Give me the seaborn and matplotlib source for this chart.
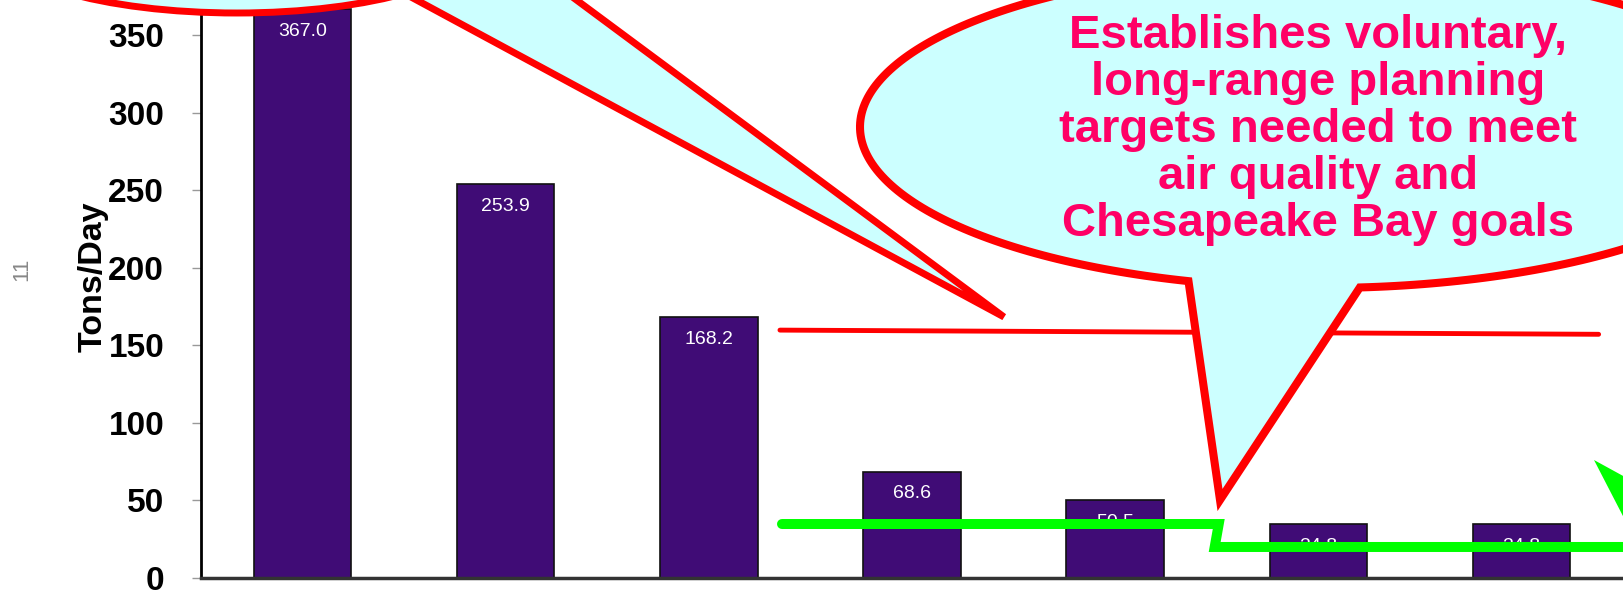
import numpy as np
import pandas as pd
import matplotlib
matplotlib.use("Agg")
import matplotlib.pyplot as plt
import seaborn as sns
from matplotlib.patches import Ellipse, Polygon

# Bars (tons/day)
periods = ["P1", "P2", "P3", "P4", "P5", "P6", "P7"]
tons_per_day = [367.0, 253.9, 168.2, 68.6, 50.5, 34.8, 34.8]
value_labels = ["367.0", "253.9", "168.2", "68.6", "50.5", "34.8", "34.8"]

# Target lines drawn over the bars (x in bar-index units)
red_x = [2.35, 6.38]
red_y = [159.8, 157.1]
green_x = [2.36, 4.51, 4.49, 6.5]
green_y = [34.8, 34.8, 20.0, 20.0]

y_ticks = [0, 50, 100, 150, 200, 250, 300, 350]

bubble_text = ("Establishes voluntary,\nlong-range planning\n"
               "targets needed to meet\nair quality and\nChesapeake Bay goals")

sns.set_style("white")
plt.rcParams["font.family"] = ["Liberation Sans", "DejaVu Sans"]

W, H = 1623, 593
fig = plt.figure(figsize=(W / 100, H / 100), dpi=100)
ax = fig.add_axes([201 / W, 15 / H, 1 - 201 / W, 578 / H])

df = pd.DataFrame({"period": periods, "tons": tons_per_day})
sns.barplot(data=df, x="period", y="tons", color="#400c76", width=0.48,
            saturation=1, edgecolor="#111111", linewidth=1.2, ax=ax)

for i, (v, lab) in enumerate(zip(tons_per_day, value_labels)):
    ax.annotate(lab, (i, v), xytext=(0, -10), textcoords="offset points",
                ha="center", va="top", color="white", fontsize=14, zorder=3)

ax.plot(red_x, red_y, color="#ff0000", lw=3.5, zorder=4)
ax.plot(green_x, green_y, color="#00ff00", lw=7.2, solid_joinstyle="miter", zorder=5)

ax.set_xlim(-0.5, 6.5)
ax.set_ylim(0, 372.6)
ax.set_yticks(y_ticks)
ax.set_yticklabels([str(t) for t in y_ticks], fontsize=24, fontweight="bold", color="black")
ax.tick_params(axis="y", left=True, length=6.5, width=1, color="#999999", pad=20)
ax.tick_params(axis="x", bottom=False, labelbottom=False)
ax.set_xlabel("")
ax.set_ylabel("Tons/Day", fontsize=24.5, fontweight="bold", color="black")
ax.yaxis.set_label_coords((109 - 201) / (W - 201), (578 - 277) / 578)
for s in ["top", "right"]:
    ax.spines[s].set_visible(False)
ax.spines["left"].set_color("black")
ax.spines["left"].set_linewidth(2)
ax.spines["bottom"].set_color("#333333")
ax.spines["bottom"].set_linewidth(2.5)

# overlay in pixel coordinates for the callouts
ov = fig.add_axes([0, 0, 1, 1], zorder=10)
ov.set_xlim(0, W)
ov.set_ylim(H, 0)
ov.axis("off")
ov.patch.set_alpha(0)

cyan, red = "#ccffff", "#ff0000"

# top-left callout (mostly off the page)
ov.add_patch(Ellipse((237, -60), 492, 146, fc=cyan, ec=red, lw=5))
ov.add_patch(Polygon([(398, -10), (1004, 317), (563, -10)], closed=True,
                     fc=cyan, ec=red, lw=5, joinstyle="miter"))

# big callout: ellipse with a tail
cx, cy, a, b = 1322, 127, 462, 161
th = np.radians(np.linspace(106.8, 445.3, 300))
pts = list(zip(cx + a * np.cos(th), cy + b * np.sin(th)))
pts.append((1220, 500))
ov.add_patch(Polygon(pts, closed=True, fc=cyan, ec=red, lw=5.8, joinstyle="miter"))
ov.text(1318, 130, bubble_text, ha="center", va="center", fontsize=34,
        fontweight="bold", color="#ff0066", linespacing=1.085)

# green callout tip at the right edge
ov.add_patch(Polygon([(1594, 460), (1625, 477), (1625, 520)], closed=True,
                     fc="#00ff00", ec="none"))

fig.text(22 / W, 1 - 269 / H, "11", rotation=90, fontsize=16, color="#888888",
         ha="center", va="center")

fig.savefig("out.png", dpi=100)
